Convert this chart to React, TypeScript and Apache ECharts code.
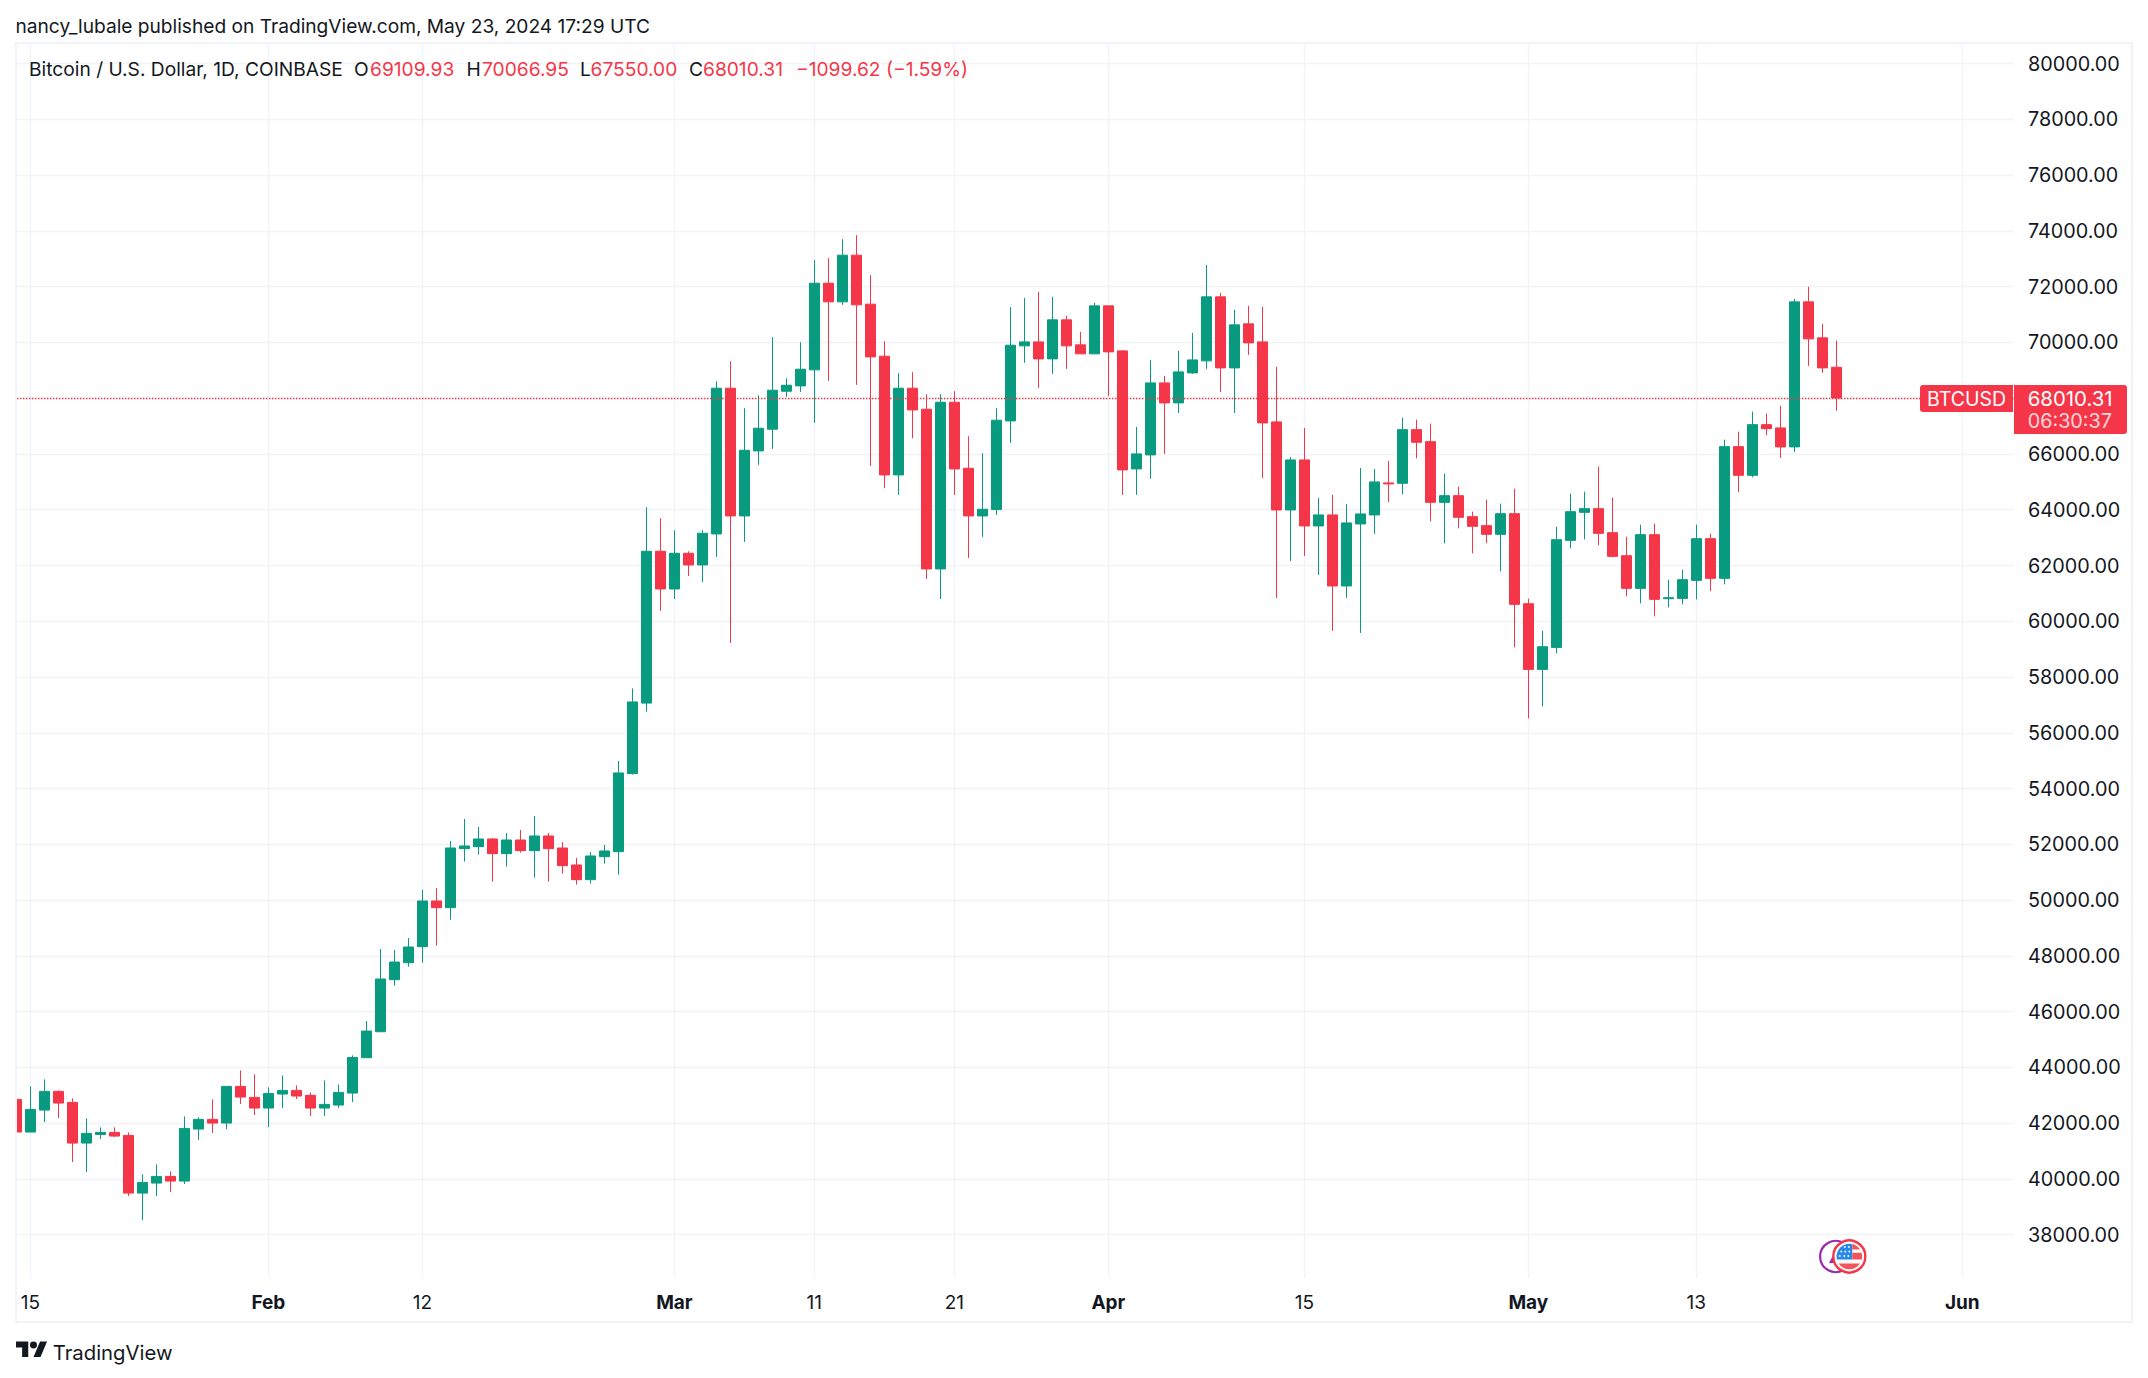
import React, { useEffect, useRef } from "react";
import * as echarts from "echarts";

const FONT = "Inter, 'Noto Sans', sans-serif";
const RED = "#F53648";
const GREEN = "#089B80";
const INK = "#131722";
const LINE = "#F1F3F8";

const DAY = 86400000;
const jan15 = Date.UTC(2024, 0, 15);
const dayNumber = (m: number, d: number) => (Date.UTC(2024, m, d) - jan15) / DAY;

const opens = [
  42851,41679,42468,43138,42743,41284,41595,41667,41559,39490,39849,40088,39921,41786,42133,42002,43317,42922,
  42540,43042,43174,42995,42540,42647,43078,44346,45278,47144,47754,48328,49967,49728,51845,51916,52191,51665,52155,51773,52299,51868,51258,50732,51557,51737,54536,57065,62510,
  61159,62439,62020,63132,68359,63778,66110,66888,68251,68443,69017,72126,71456,73131,71373,69507,65249,68359,67605,61877,67856,65488,63778,64005,67187,69878,70021,69411,70811,69914,69591,
  71313,69698,65465,65967,68550,67833,68909,69340,71636,69088,70667,70021,67151,63993,65787,63419,63814,61267,63491,63814,64962,64948,66873,66443,64266,64505,63752,63429,63118,63859,
  60630,58274,59063,62902,63907,64039,63178,62352,61180,63106,60809,60821,61467,62962,61539,66263,65235,67052,66936,66254,71456,70165,69109.93,
];
const closes = [
  41679,42492,43138,42719,41284,41631,41667,41535,39490,39873,40088,39921,41810,42133,42002,43317,42934,42540,
  43066,43174,42971,42540,42671,43102,44356,45302,47168,47778,48316,49967,49728,51868,51940,52191,51665,52155,51773,52299,51845,51235,50732,51581,51761,54559,57107,62510,61159,
  62439,62020,63156,68359,63778,66134,66924,68287,68466,69041,72126,71456,73131,71349,69483,65249,68359,67581,61877,67856,65465,63778,64017,67211,69902,70021,69411,70811,69878,69591,71313,
  69662,65429,66003,68550,67833,68945,69375,71636,69088,70631,69985,67115,63993,65787,63419,63814,61267,63527,63850,64998,64926,66873,66419,64266,64505,63728,63405,63118,63859,60606,
  58274,59087,62926,63931,64039,63154,62328,61180,63106,60786,60845,61491,62962,61539,66263,65235,67052,66909,66254,71456,70129,69088,68010.31,
];
const lows = [
  41679,41679,42038,42181,40602,40244,41428,41499,39383,38521,39383,39526,39813,41392,41643,41786,42683,42289,
  41858,42540,42863,42253,42253,42540,42755,44346,45278,46929,47611,47754,48364,49297,51378,51629,50660,51199,51701,50804,50660,50948,50553,50589,51306,50912,54500,56760,60370,
  60800,61625,61410,62307,59221,62845,65608,66182,68048,68227,67115,68622,71349,68478,65572,64783,64532,66565,61518,60800,64532,62271,63025,63814,66397,69268,68371,68873,69052,69591,69591,
  68084,64532,64532,65106,66003,67474,68873,69052,68227,67474,69555,65142,60836,62163,62343,61661,59652,60836,59580,63132,64280,64553,65845,63584,62795,63333,62436,62795,61790,59063,
  56516,56946,58848,62615,62938,62723,62292,60893,60642,60175,60498,60606,60785,61073,61324,64625,65163,66670,65859,66074,69160,68909,67550,
];
const highs = [
  43066,43317,43568,43174,42887,42169,41846,41846,41667,40160,40519,40268,42241,42205,42851,43317,43891,43748,
  43282,43712,43353,43102,43532,43389,44428,45661,48245,48209,48639,50362,50433,52120,52909,52622,52227,52407,52514,53017,52407,52084,51510,51725,51976,54990,57592,64089,63694,
  63264,62510,63264,68610,69328,67641,68108,70189,68718,70009,72951,73023,73705,73848,72413,70045,68897,68933,68144,68144,68251,66637,66027,67641,71265,71600,71815,71636,70954,70380,71421,
  71313,69734,66971,69375,68801,69698,70344,72784,71779,71169,71313,71277,69124,65895,66936,64424,64532,64209,65500,65465,65752,67304,67232,67088,65294,64828,63931,64361,64218,64756,
  60809,59661,63393,64577,64649,65546,64433,63034,63465,63500,61491,61850,63465,63142,66514,66801,67519,67447,67725,71564,71995,70667,70066.95,
];

const priceGridTicks = [
  38000,40000,42000,44000,46000,48000,50000,52000,54000,56000,58000,60000,
  62000,64000,66000,68000,70000,72000,74000,76000,78000,80000,
];
const priceLabelTicks = [
  38000,40000,42000,44000,46000,48000,50000,52000,54000,56000,58000,60000,
  62000,64000,66000,70000,72000,74000,76000,78000,80000,
];
const lastClose = 68010.31;

const timeTickDates = [
  [0,15],[1,1],[1,12],[2,1],[2,11],[2,21],[3,1],[3,15],[4,1],[4,13],[5,1],
];
const timeTickLabels = ["15","Feb","12","Mar","11","21","Apr","15","May","13","Jun"];
const monthLabels = ["Feb","Mar","Apr","May","Jun"];

const titleText = "nancy_lubale published on TradingView.com, May 23, 2024 17:29 UTC";
const symbolText = "Bitcoin / U.S. Dollar, 1D, COINBASE";
const legendPieces: [string, number, string][] = [
  ["O", 354, INK],
  ["69109.93", 370, RED],
  ["H", 466.5, INK],
  ["70066.95", 482, RED],
  ["L", 580, INK],
  ["67550.00", 590.5, RED],
  ["C", 689, INK],
  ["68010.31", 703, RED],
  ["\u22121099.62 (\u22121.59%)", 796, RED],
];

echarts.graphic.registerShape(
  "tvLogo",
  echarts.graphic.extendPath(
    "M14 22H7V11H0V4h14v18zM28 22h-8l7.5-18h8L28 22zM24 8a4 4 0 1 1-8 0a4 4 0 1 1 8 0z",
    {}
  )
);
echarts.graphic.registerShape(
  "flagCanton",
  echarts.graphic.extendPath("M-12.44 3A12.8 12.8 0 0 1 3 -12.44L3 3Z", {})
);
echarts.graphic.registerShape(
  "flagStripes",
  echarts.graphic.extendPath(
    "M3 -7L3 -12.44A12.8 12.8 0 0 1 10.7 -7ZM3 -3.7H12.25A12.8 12.8 0 0 1 12.44 3H3ZM-10.7 7H10.7A12.8 12.8 0 0 1 -10.7 7Z",
    {}
  )
);

const starDots: [number, number][] = [
  [-4.5,-9.5],[-0.5,-9.5],[-8,-5],[-4,-5],[0,-5],[-9.5,-0.5],[-5,-0.5],[-1,-0.5],
];

function txt(text: string, x: number, y: number, fill: string, size: number, extra: any = {}) {
  return {
    type: "text",
    silent: true,
    style: {
      text, x, y, fill,
      fontFamily: FONT,
      fontSize: size,
      textVerticalAlign: "middle",
      verticalAlign: "middle",
      ...extra,
    },
  };
}

export default function App() {
  const ref = useRef<HTMLDivElement>(null);
  useEffect(() => {
    const chart = echarts.init(ref.current!, undefined, { renderer: "svg" });
    const data = opens.map((o, i) => [i - 1, o, closes[i], lows[i], highs[i]]);
    const tickValues = timeTickDates.map((d) => dayNumber(d[0], d[1]));
    const flagX = 1849.3;
    const flagY = 1256.5;

    const overlay: any[] = [
      { type: "rect", silent: true, shape: { x: 0, y: 44, width: 16, height: 1233 }, style: { fill: "#ffffff" } },
      { type: "rect", silent: true, shape: { x: 16, y: 43, width: 2116, height: 1279 }, style: { fill: "none", stroke: "#F0F3FA", lineWidth: 2 } },
      txt(titleText, 15.5, 25.5, INK, 19.15),
      txt(symbolText, 29, 68.5, INK, 19.2),
      ...legendPieces.map(([t, x, c]) => txt(t, x, 68.5, c, 19.2)),
      { type: "rect", silent: true, shape: { x: 1920, y: 385, width: 93, height: 27, r: [3, 0, 0, 3] }, style: { fill: RED } },
      txt("BTCUSD", 1966.5, 398.5, "#ffffff", 19.5, { textAlign: "center", align: "center" }),
      { type: "rect", silent: true, shape: { x: 2014, y: 385, width: 113, height: 49, r: [0, 3, 3, 0] }, style: { fill: RED } },
      txt("68010.31", 2027.7, 398.5, "#FFFFFF", 20.4),
      txt("06:30:37", 2027.7, 420.7, "#FFD7DB", 19.8),
      { type: "circle", silent: true, shape: { cx: 1835.7, cy: flagY, r: 15.6 }, style: { fill: "#ffffff", stroke: "#9C27B0", lineWidth: 2.2 } },
      { type: "polygon", silent: true, shape: { points: [[1829, 1263], [1835, 1252], [1835, 1263]] }, style: { fill: "#9C27B0" } },
      { type: "circle", silent: true, shape: { cx: flagX, cy: flagY, r: 16 }, style: { fill: "#ffffff", stroke: "#F53648", lineWidth: 2.4 } },
      { type: "flagCanton", silent: true, x: flagX, y: flagY, style: { fill: "#2A88E8" } },
      { type: "flagStripes", silent: true, x: flagX, y: flagY, style: { fill: "#F2555A" } },
      ...starDots.map(([dx, dy]) => ({ type: "circle", silent: true, shape: { cx: flagX + dx, cy: flagY + dy, r: 0.9 }, style: { fill: "#ffffff" } })),
      { type: "tvLogo", silent: true, x: 16, y: 1338.2, scaleX: 0.875, scaleY: 0.85, style: { fill: INK } },
      txt("TradingView", 52.8, 1352, INK, 20.3),
    ];

    chart.setOption({
      animation: false,
      backgroundColor: "#ffffff",
      grid: { left: 17, top: 44.4, width: 1997, height: 1233, containLabel: false },
      xAxis: {
        type: "value",
        min: -0.957,
        max: 141.693,
        axisLine: { show: false },
        axisTick: { show: false, customValues: tickValues },
        splitLine: { show: true, lineStyle: { color: LINE, width: 1.4 } },
        axisLabel: {
          customValues: tickValues,
          margin: 15.5,
          color: INK,
          fontFamily: FONT,
          fontSize: 19,
          hideOverlap: false,
          showMinLabel: true,
          showMaxLabel: true,
          formatter: (v: number) => {
            const label = timeTickLabels[tickValues.indexOf(v)] ?? "";
            return monthLabels.includes(label) ? `{b|${label}}` : label;
          },
          rich: { b: { fontFamily: FONT, fontSize: 19, fontWeight: 700, color: INK } },
        },
      },
      yAxis: {
        type: "value",
        position: "right",
        min: 36466,
        max: 80691,
        axisLine: { show: false },
        axisTick: { show: false, customValues: priceGridTicks },
        splitLine: { show: true, lineStyle: { color: LINE, width: 1.4 } },
        axisLabel: {
          customValues: priceLabelTicks,
          margin: 14,
          color: INK,
          fontFamily: FONT,
          fontSize: 19.8,
          hideOverlap: false,
          padding: [1.5, 0, 0, 0],
          formatter: (v: number) => v.toFixed(2),
        },
      },
      series: [
        {
          type: "candlestick",
          data,
          barWidth: 10,
          clip: true,
          itemStyle: {
            color: GREEN,
            color0: RED,
            borderColor: GREEN,
            borderColor0: RED,
            borderWidth: 1,
          },
          markLine: {
            silent: true,
            symbol: "none",
            animation: false,
            label: { show: false },
            lineStyle: { color: RED, width: 1.3, type: [1.4, 1.6], opacity: 1 },
            data: [{ yAxis: lastClose }],
          },
        },
      ],
      graphic: overlay.map((e) => ({ z: 100, ...e })),
    });
    return () => chart.dispose();
  }, []);
  return (
    <div
      ref={ref}
      style={{ position: "absolute", left: 0, top: 0, width: 2148, height: 1378 }}
    />
  );
}
